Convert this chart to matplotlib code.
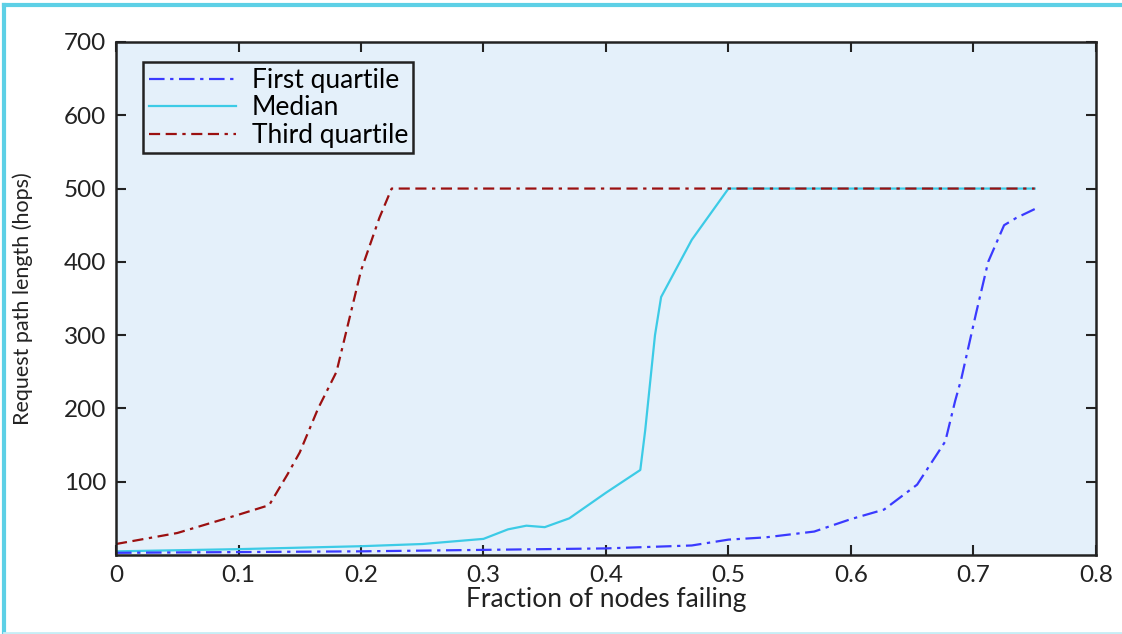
import matplotlib
matplotlib.use("Agg")
import matplotlib.pyplot as plt
from matplotlib.lines import Line2D

plt.rcParams["font.family"] = ["Lato", "DejaVu Sans"]

# fraction of nodes failing -> request path length (hops)
first_x = [0.0, 0.1, 0.2, 0.3, 0.4, 0.47, 0.5, 0.53, 0.57, 0.6, 0.627, 0.654, 0.677,
           0.685, 0.69, 0.702, 0.712, 0.725, 0.735, 0.75]
first_y = [3, 4, 5, 7, 9, 13, 21, 24, 32, 49, 62, 96, 155,
           210, 240, 329, 400, 450, 460, 472]

median_x = [0.0, 0.1, 0.15, 0.2, 0.25, 0.3, 0.32, 0.335, 0.35, 0.37, 0.4, 0.428,
            0.432, 0.44, 0.445, 0.47, 0.5, 0.75]
median_y = [5, 8, 10, 12, 15, 22, 35, 40, 38, 50, 85, 116,
            170, 300, 352, 430, 500, 500]

third_x = [0.0, 0.05, 0.1, 0.125, 0.14, 0.15, 0.165, 0.18, 0.2, 0.215, 0.225, 0.75]
third_y = [15, 30, 55, 68, 110, 140, 200, 250, 388, 460, 500, 500]

blue_ls = (0, (7, 2.5, 1.5, 2.5))
red_ls = (0, (5, 2.5, 5, 2.5, 1.5, 2.5))

fig = plt.figure(figsize=(11.22, 6.34), dpi=100)
ax = fig.add_axes([0.1034, 0.1246, 0.8734, 0.8092])
ax.set_facecolor("#e4f0fa")

ax.plot(median_x, median_y, color="#3ccbe6", lw=1.6, ls="-")
ax.plot(third_x, third_y, color="#9b1010", lw=1.6, ls=red_ls)
ax.plot(first_x, first_y, color="#3a3aff", lw=1.6, ls=blue_ls)

ax.set_xlim(0, 0.8)
ax.set_ylim(0, 700)
ax.set_xticks([0, 0.1, 0.2, 0.3, 0.4, 0.5, 0.6, 0.7, 0.8])
ax.set_xticklabels(["0", "0.1", "0.2", "0.3", "0.4", "0.5", "0.6", "0.7", "0.8"])
ax.set_yticks([100, 200, 300, 400, 500, 600, 700])
ax.tick_params(direction="in", top=True, right=True, length=7, width=1.5,
               labelsize=17.5, colors="#222222", pad=7)
for s in ax.spines.values():
    s.set_linewidth(1.8)
    s.set_color("#222222")

ax.set_xlabel("Fraction of nodes failing", fontsize=19, labelpad=1, color="#222222")
ax.set_ylabel("Request path length (hops)", fontsize=15.5, labelpad=22, color="#222222")

handles = [
    Line2D([], [], color="#3a3aff", lw=1.6, ls=blue_ls),
    Line2D([], [], color="#3ccbe6", lw=1.6, ls="-"),
    Line2D([], [], color="#9b1010", lw=1.6, ls=red_ls),
]
leg = ax.legend(handles, ["First quartile", "Median", "Third quartile"],
                loc="upper left", bbox_to_anchor=(0.028, 0.96), fontsize=19,
                frameon=True, fancybox=False, borderpad=0.2, labelspacing=0.1,
                handlelength=3.3, handletextpad=0.6, borderaxespad=0)
leg.get_frame().set_edgecolor("#222222")
leg.get_frame().set_linewidth(1.8)
leg.get_frame().set_facecolor("#e4f0fa")
leg.get_frame().set_alpha(1)

# cyan page border
fig.add_artist(Line2D([0.004, 0.004], [0.0, 0.992], transform=fig.transFigure,
                      color="#5dd0e6", lw=3))
fig.add_artist(Line2D([0.004, 1.0], [0.992, 0.992], transform=fig.transFigure,
                      color="#5dd0e6", lw=3))
fig.add_artist(Line2D([0.004, 1.0], [0.002, 0.002], transform=fig.transFigure,
                      color="#c6eef6", lw=2))

fig.savefig("out.png", dpi=100)
